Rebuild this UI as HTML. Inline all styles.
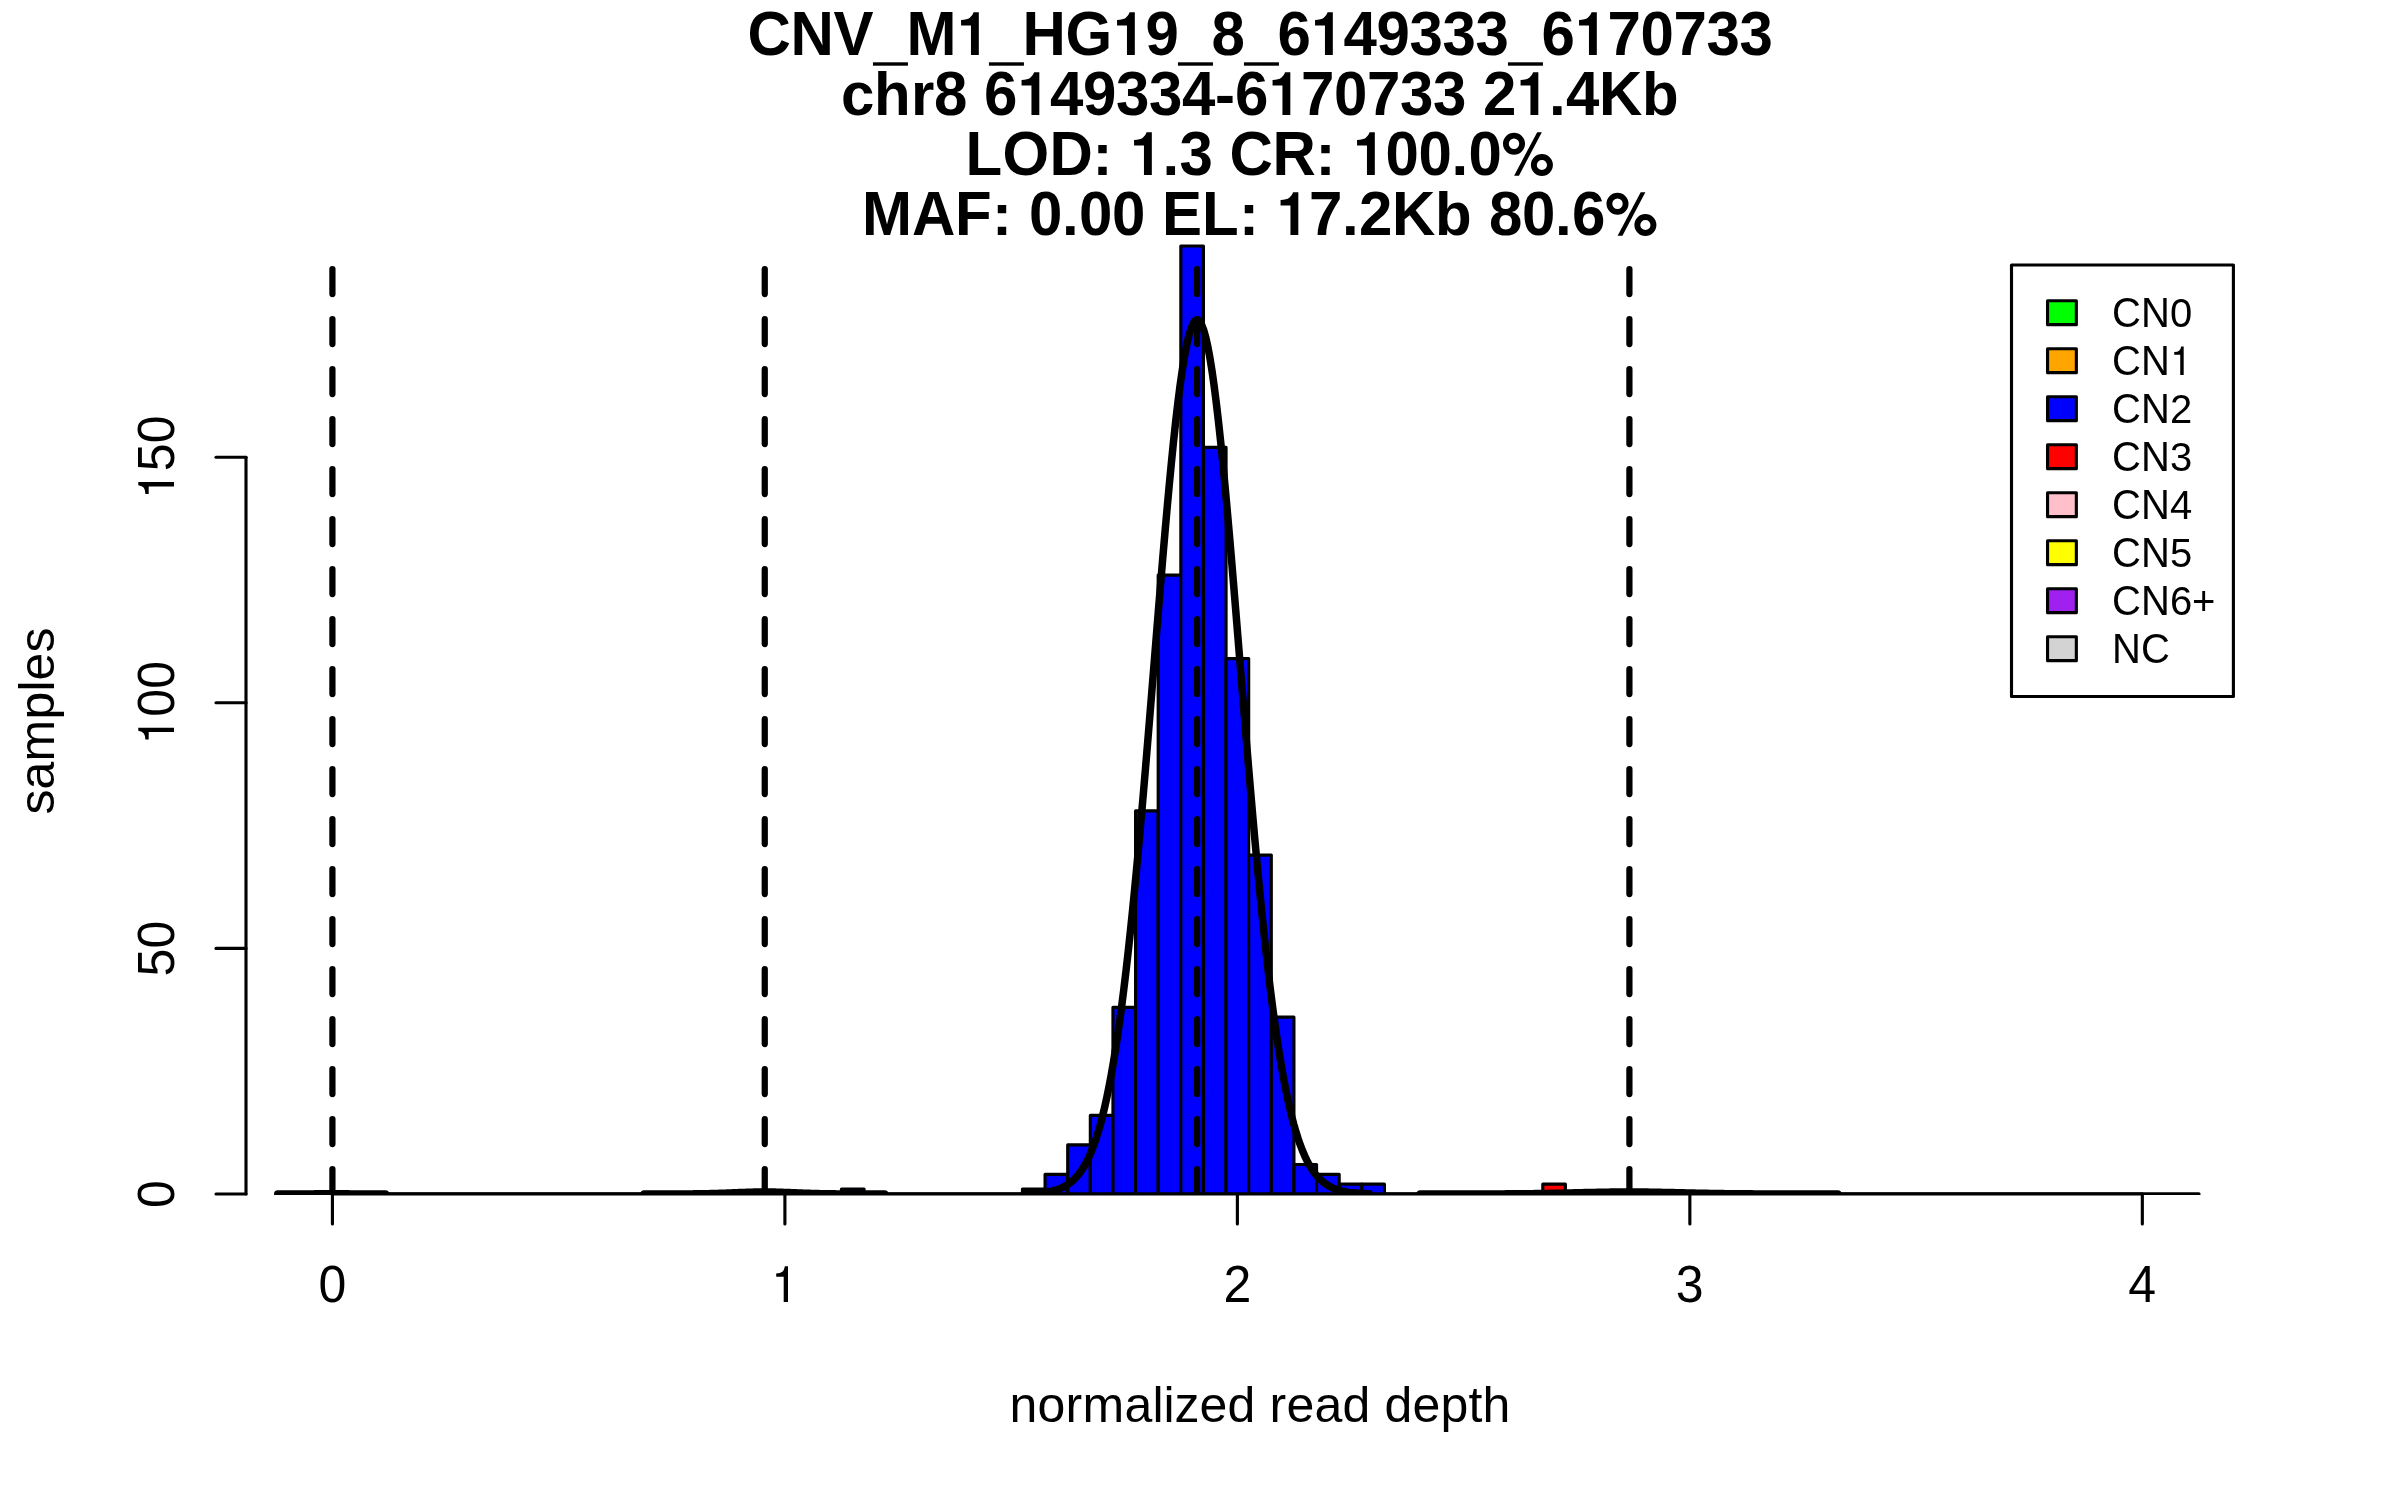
<!DOCTYPE html><html><head><meta charset="utf-8"><style>html,body{margin:0;padding:0;background:#fff;overflow:hidden}svg{display:block;will-change:transform}text{font-family:"Liberation Sans",sans-serif;font-kerning:none;fill:#000}</style></head><body>
<svg width="2400" height="1500" viewBox="0 0 2400 1500">
<defs><clipPath id="pc"><rect x="246" y="236" width="2029" height="959"/></clipPath></defs>
<rect width="2400" height="1500" fill="#fff"/>
<g transform="translate(1260.00,55.00)"><text transform="scale(1,1.06)" x="-512.50 -469.50 -426.50 -353.50 -237.50 -194.50" y="0" font-size="60" font-weight="bold">CNVMHG</text><text transform="scale(1,1.05)" x="-114.50 -48.50 17.50 83.50 116.50 149.50 182.50 215.50 281.50 347.50 380.50 413.50 446.50 479.50" y="0" font-size="60" font-weight="bold">98649333670733</text><path transform="translate(-303.50,0) scale(0.06,-0.06)" d="M372 0L241 0L241 492L76 492L76 583Q178 586 222 620Q266 654 286 712L372 712Z"/><path transform="translate(-147.50,0) scale(0.06,-0.06)" d="M372 0L241 0L241 492L76 492L76 583Q178 586 222 620Q266 654 286 712L372 712Z"/><path transform="translate(50.50,0) scale(0.06,-0.06)" d="M372 0L241 0L241 492L76 492L76 583Q178 586 222 620Q266 654 286 712L372 712Z"/><path transform="translate(314.50,0) scale(0.06,-0.06)" d="M372 0L241 0L241 492L76 492L76 583Q178 586 222 620Q266 654 286 712L372 712Z"/><rect x="-387.05" y="7.30" width="35.00" height="3.40"/><rect x="-271.05" y="7.30" width="35.00" height="3.40"/><rect x="-82.05" y="7.30" width="35.00" height="3.40"/><rect x="-16.05" y="7.30" width="35.00" height="3.40"/><rect x="247.95" y="7.30" width="35.00" height="3.40"/></g>
<g transform="translate(1260.00,115.00)"><text transform="scale(1,1.06)" x="339.00" y="0" font-size="60" font-weight="bold">K</text><text transform="scale(1,1.05)" x="-326.00 -276.00 -210.00 -177.00 -144.00 -111.00 -78.00 -25.00 41.00 74.00 107.00 140.00 173.00 223.00 306.00" y="0" font-size="60" font-weight="bold">864933467073324</text><text transform="scale(1,1.02)" x="-419.00 -386.00 -349.00 382.00" y="0" font-size="60" font-weight="bold">chrb</text><text x="-45.00 289.00" y="0" font-size="60" font-weight="bold">-.</text><path transform="translate(-243.00,0) scale(0.06,-0.06)" d="M372 0L241 0L241 492L76 492L76 583Q178 586 222 620Q266 654 286 712L372 712Z"/><path transform="translate(8.00,0) scale(0.06,-0.06)" d="M372 0L241 0L241 492L76 492L76 583Q178 586 222 620Q266 654 286 712L372 712Z"/><path transform="translate(256.00,0) scale(0.06,-0.06)" d="M372 0L241 0L241 492L76 492L76 583Q178 586 222 620Q266 654 286 712L372 712Z"/></g>
<g transform="translate(1260.00,175.00)"><text transform="scale(1,1.06)" x="-294.50 -257.50 -210.50 -30.50 12.50" y="0" font-size="60" font-weight="bold">LODCR</text><text transform="scale(1,1.05)" x="-80.50 125.50 158.50 208.50" y="0" font-size="60" font-weight="bold">3000</text><text x="-167.50 -97.50 55.50 191.50" y="0" font-size="60" font-weight="bold">:.:.</text><path transform="translate(-130.50,0) scale(0.06,-0.06)" d="M372 0L241 0L241 492L76 492L76 583Q178 586 222 620Q266 654 286 712L372 712Z"/><path transform="translate(92.50,0) scale(0.06,-0.06)" d="M372 0L241 0L241 492L76 492L76 583Q178 586 222 620Q266 654 286 712L372 712Z"/><path fill-rule="evenodd" transform="translate(241.50,0) scale(1)" d="M23.50 -31.20A11.00 11.00 0 1 0 1.50 -31.20A11.00 11.00 0 1 0 23.50 -31.20ZM17.70 -31.20A5.20 5.20 0 1 0 7.30 -31.20A5.20 5.20 0 1 0 17.70 -31.20ZM51.40 -10.00A11.00 11.00 0 1 0 29.40 -10.00A11.00 11.00 0 1 0 51.40 -10.00ZM45.50 -10.00A5.10 5.10 0 1 0 35.30 -10.00A5.10 5.10 0 1 0 45.50 -10.00ZM12.6 0.7L17.45 0.7L40.35 -42.8L35.7 -42.8Z"/></g>
<g transform="translate(1260.00,235.00)"><text transform="scale(1,1.06)" x="-398.00 -348.00 -305.00 -98.00 -58.00 132.00" y="0" font-size="60" font-weight="bold">MAFELK</text><text transform="scale(1,1.05)" x="-231.00 -181.00 -148.00 49.00 99.00 229.00 262.00 312.00" y="0" font-size="60" font-weight="bold">00072806</text><text transform="scale(1,1.02)" x="175.00" y="0" font-size="60" font-weight="bold">b</text><text x="-268.00 -198.00 -21.00 82.00 295.00" y="0" font-size="60" font-weight="bold">:.:..</text><path transform="translate(16.00,0) scale(0.06,-0.06)" d="M372 0L241 0L241 492L76 492L76 583Q178 586 222 620Q266 654 286 712L372 712Z"/><path fill-rule="evenodd" transform="translate(345.00,0) scale(1)" d="M23.50 -31.20A11.00 11.00 0 1 0 1.50 -31.20A11.00 11.00 0 1 0 23.50 -31.20ZM17.70 -31.20A5.20 5.20 0 1 0 7.30 -31.20A5.20 5.20 0 1 0 17.70 -31.20ZM51.40 -10.00A11.00 11.00 0 1 0 29.40 -10.00A11.00 11.00 0 1 0 51.40 -10.00ZM45.50 -10.00A5.10 5.10 0 1 0 35.30 -10.00A5.10 5.10 0 1 0 45.50 -10.00ZM12.6 0.7L17.45 0.7L40.35 -42.8L35.7 -42.8Z"/></g>
<g clip-path="url(#pc)">
<line x1="321.11" y1="1194.00" x2="2198.89" y2="1194.00" stroke="#000" stroke-width="3.4" stroke-linecap="round"/>
<g stroke="#000" stroke-width="3.125" stroke-linejoin="round" stroke-linecap="round">
<rect x="1022.45" y="1189.09" width="22.62" height="4.91" fill="#0000FF"/>
<rect x="1045.07" y="1174.35" width="22.62" height="19.65" fill="#0000FF"/>
<rect x="1067.70" y="1144.88" width="22.62" height="49.12" fill="#0000FF"/>
<rect x="1090.32" y="1115.41" width="22.62" height="78.59" fill="#0000FF"/>
<rect x="1112.95" y="1007.35" width="22.62" height="186.65" fill="#0000FF"/>
<rect x="1135.57" y="810.87" width="22.62" height="383.13" fill="#0000FF"/>
<rect x="1158.19" y="575.10" width="22.62" height="618.90" fill="#0000FF"/>
<rect x="1180.82" y="246.00" width="22.62" height="948.00" fill="#0000FF"/>
<rect x="1203.44" y="447.39" width="22.62" height="746.61" fill="#0000FF"/>
<rect x="1226.06" y="658.60" width="22.62" height="535.40" fill="#0000FF"/>
<rect x="1248.69" y="855.08" width="22.62" height="338.92" fill="#0000FF"/>
<rect x="1271.31" y="1017.17" width="22.62" height="176.83" fill="#0000FF"/>
<rect x="1293.94" y="1164.53" width="22.62" height="29.47" fill="#0000FF"/>
<rect x="1316.56" y="1174.35" width="22.62" height="19.65" fill="#0000FF"/>
<rect x="1339.18" y="1184.18" width="22.62" height="9.82" fill="#0000FF"/>
<rect x="1361.81" y="1184.18" width="22.62" height="9.82" fill="#0000FF"/>
<rect x="841.46" y="1189.09" width="22.62" height="4.91" fill="#0000FF"/>
<rect x="1542.80" y="1184.18" width="22.62" height="9.82" fill="#FF0000"/>
</g>
<g stroke="#000" stroke-width="7.5" stroke-linecap="round" stroke-linejoin="round" fill="none">
<polyline points="277.78,1194.00 278.46,1194.00 279.13,1194.00 279.80,1194.00 280.48,1194.00 281.15,1194.00 281.82,1194.00 282.49,1194.00 283.17,1194.00 283.84,1194.00 284.51,1194.00 285.19,1194.00 285.86,1194.00 286.53,1194.00 287.21,1194.00 287.88,1194.00 288.55,1194.00 289.22,1194.00 289.90,1194.00 290.57,1194.00 291.24,1194.00 291.92,1194.00 292.59,1194.00 293.26,1193.99 293.94,1193.99 294.61,1193.99 295.28,1193.99 295.95,1193.99 296.63,1193.99 297.30,1193.99 297.97,1193.99 298.65,1193.99 299.32,1193.98 299.99,1193.98 300.67,1193.98 301.34,1193.98 302.01,1193.97 302.68,1193.97 303.36,1193.97 304.03,1193.96 304.70,1193.96 305.38,1193.96 306.05,1193.95 306.72,1193.95 307.40,1193.94 308.07,1193.94 308.74,1193.93 309.41,1193.92 310.09,1193.92 310.76,1193.91 311.43,1193.90 312.11,1193.90 312.78,1193.89 313.45,1193.88 314.13,1193.87 314.80,1193.86 315.47,1193.85 316.14,1193.85 316.82,1193.84 317.49,1193.83 318.16,1193.82 318.84,1193.81 319.51,1193.80 320.18,1193.79 320.86,1193.78 321.53,1193.77 322.20,1193.77 322.87,1193.76 323.55,1193.75 324.22,1193.74 324.89,1193.74 325.57,1193.73 326.24,1193.72 326.91,1193.72 327.59,1193.71 328.26,1193.71 328.93,1193.71 329.60,1193.70 330.28,1193.70 330.95,1193.70 331.62,1193.70 332.30,1193.70 332.97,1193.70 333.64,1193.70 334.32,1193.71 334.99,1193.71 335.66,1193.71 336.33,1193.72 337.01,1193.72 337.68,1193.73 338.35,1193.74 339.03,1193.74 339.70,1193.75 340.37,1193.76 341.05,1193.77 341.72,1193.77 342.39,1193.78 343.06,1193.79 343.74,1193.80 344.41,1193.81 345.08,1193.82 345.76,1193.83 346.43,1193.84 347.10,1193.85 347.78,1193.85 348.45,1193.86 349.12,1193.87 349.79,1193.88 350.47,1193.89 351.14,1193.90 351.81,1193.90 352.49,1193.91 353.16,1193.92 353.83,1193.92 354.51,1193.93 355.18,1193.94 355.85,1193.94 356.52,1193.95 357.20,1193.95 357.87,1193.96 358.54,1193.96 359.22,1193.96 359.89,1193.97 360.56,1193.97 361.24,1193.97 361.91,1193.98 362.58,1193.98 363.25,1193.98 363.93,1193.98 364.60,1193.99 365.27,1193.99 365.95,1193.99 366.62,1193.99 367.29,1193.99 367.97,1193.99 368.64,1193.99 369.31,1193.99 369.98,1193.99 370.66,1194.00 371.33,1194.00 372.00,1194.00 372.68,1194.00 373.35,1194.00 374.02,1194.00 374.70,1194.00 375.37,1194.00 376.04,1194.00 376.71,1194.00 377.39,1194.00 378.06,1194.00 378.73,1194.00 379.41,1194.00 380.08,1194.00 380.75,1194.00 381.43,1194.00 382.10,1194.00 382.77,1194.00 383.44,1194.00 384.12,1194.00 384.79,1194.00 385.46,1194.00"/>
<polyline points="644.16,1194.00 645.67,1194.00 647.17,1194.00 648.67,1194.00 650.18,1194.00 651.68,1194.00 653.18,1194.00 654.68,1194.00 656.19,1194.00 657.69,1194.00 659.19,1194.00 660.70,1193.99 662.20,1193.99 663.70,1193.99 665.21,1193.99 666.71,1193.99 668.21,1193.99 669.71,1193.99 671.22,1193.98 672.72,1193.98 674.22,1193.98 675.73,1193.97 677.23,1193.97 678.73,1193.97 680.24,1193.96 681.74,1193.95 683.24,1193.95 684.74,1193.94 686.25,1193.93 687.75,1193.92 689.25,1193.91 690.76,1193.90 692.26,1193.89 693.76,1193.87 695.27,1193.86 696.77,1193.84 698.27,1193.82 699.77,1193.80 701.28,1193.78 702.78,1193.76 704.28,1193.73 705.79,1193.70 707.29,1193.67 708.79,1193.64 710.30,1193.60 711.80,1193.57 713.30,1193.53 714.80,1193.49 716.31,1193.44 717.81,1193.40 719.31,1193.35 720.82,1193.30 722.32,1193.25 723.82,1193.20 725.33,1193.14 726.83,1193.08 728.33,1193.03 729.83,1192.97 731.34,1192.91 732.84,1192.85 734.34,1192.79 735.85,1192.73 737.35,1192.67 738.85,1192.61 740.36,1192.55 741.86,1192.49 743.36,1192.43 744.86,1192.38 746.37,1192.33 747.87,1192.28 749.37,1192.24 750.88,1192.19 752.38,1192.15 753.88,1192.12 755.39,1192.09 756.89,1192.06 758.39,1192.04 759.89,1192.02 761.40,1192.01 762.90,1192.00 764.40,1192.00 765.91,1192.00 767.41,1192.01 768.91,1192.02 770.42,1192.04 771.92,1192.06 773.42,1192.09 774.92,1192.12 776.43,1192.15 777.93,1192.19 779.43,1192.24 780.94,1192.28 782.44,1192.33 783.94,1192.38 785.45,1192.43 786.95,1192.49 788.45,1192.55 789.95,1192.61 791.46,1192.67 792.96,1192.73 794.46,1192.79 795.97,1192.85 797.47,1192.91 798.97,1192.97 800.48,1193.03 801.98,1193.08 803.48,1193.14 804.98,1193.20 806.49,1193.25 807.99,1193.30 809.49,1193.35 811.00,1193.40 812.50,1193.44 814.00,1193.49 815.51,1193.53 817.01,1193.57 818.51,1193.60 820.01,1193.64 821.52,1193.67 823.02,1193.70 824.52,1193.73 826.03,1193.76 827.53,1193.78 829.03,1193.80 830.54,1193.82 832.04,1193.84 833.54,1193.86 835.04,1193.87 836.55,1193.89 838.05,1193.90 839.55,1193.91 841.06,1193.92 842.56,1193.93 844.06,1193.94 845.57,1193.95 847.07,1193.95 848.57,1193.96 850.07,1193.97 851.58,1193.97 853.08,1193.97 854.58,1193.98 856.09,1193.98 857.59,1193.98 859.09,1193.99 860.60,1193.99 862.10,1193.99 863.60,1193.99 865.10,1193.99 866.61,1193.99 868.11,1193.99 869.61,1194.00 871.12,1194.00 872.62,1194.00 874.12,1194.00 875.63,1194.00 877.13,1194.00 878.63,1194.00 880.13,1194.00 881.64,1194.00 883.14,1194.00 884.64,1194.00"/>
<polyline points="1025.08,1193.71 1027.23,1193.64 1029.38,1193.56 1031.53,1193.47 1033.68,1193.36 1035.83,1193.23 1037.98,1193.07 1040.13,1192.88 1042.28,1192.66 1044.43,1192.40 1046.58,1192.09 1048.73,1191.72 1050.88,1191.30 1053.03,1190.80 1055.18,1190.23 1057.33,1189.55 1059.48,1188.78 1061.63,1187.88 1063.78,1186.84 1065.93,1185.65 1068.08,1184.29 1070.23,1182.73 1072.38,1180.96 1074.53,1178.94 1076.68,1176.65 1078.83,1174.07 1080.98,1171.16 1083.13,1167.90 1085.28,1164.23 1087.43,1160.14 1089.58,1155.59 1091.73,1150.53 1093.88,1144.92 1096.03,1138.74 1098.18,1131.92 1100.33,1124.45 1102.48,1116.26 1104.63,1107.33 1106.78,1097.61 1108.93,1087.08 1111.08,1075.68 1113.23,1063.40 1115.38,1050.21 1117.53,1036.08 1119.68,1020.99 1121.83,1004.93 1123.98,987.90 1126.13,969.89 1128.28,950.93 1130.43,931.01 1132.58,910.17 1134.73,888.45 1136.88,865.88 1139.03,842.53 1141.18,818.46 1143.33,793.74 1145.48,768.46 1147.63,742.71 1149.78,716.59 1151.93,690.23 1154.08,663.74 1156.23,637.25 1158.38,610.90 1160.53,584.82 1162.68,559.16 1164.83,534.08 1166.98,509.72 1169.13,486.23 1171.28,463.77 1173.43,442.47 1175.58,422.48 1177.73,403.93 1179.88,386.97 1182.03,371.69 1184.18,358.22 1186.33,346.65 1188.48,337.06 1190.63,329.53 1192.78,324.11 1194.93,320.84 1197.08,319.75 1199.23,320.84 1201.38,324.11 1203.53,329.53 1205.68,337.06 1207.83,346.65 1209.98,358.22 1212.13,371.69 1214.28,386.97 1216.43,403.93 1218.58,422.48 1220.73,442.47 1222.88,463.77 1225.03,486.23 1227.18,509.72 1229.33,534.08 1231.48,559.16 1233.63,584.82 1235.78,610.90 1237.93,637.25 1240.08,663.74 1242.23,690.23 1244.38,716.59 1246.53,742.71 1248.68,768.46 1250.83,793.74 1252.98,818.46 1255.13,842.53 1257.28,865.88 1259.43,888.45 1261.58,910.17 1263.73,931.01 1265.88,950.93 1268.03,969.89 1270.18,987.90 1272.33,1004.93 1274.48,1020.99 1276.63,1036.08 1278.78,1050.21 1280.93,1063.40 1283.08,1075.68 1285.23,1087.08 1287.38,1097.61 1289.53,1107.33 1291.68,1116.26 1293.83,1124.45 1295.98,1131.92 1298.13,1138.74 1300.28,1144.92 1302.43,1150.53 1304.58,1155.59 1306.73,1160.14 1308.88,1164.23 1311.03,1167.90 1313.18,1171.16 1315.33,1174.07 1317.48,1176.65 1319.63,1178.94 1321.78,1180.96 1323.93,1182.73 1326.08,1184.29 1328.23,1185.65 1330.38,1186.84 1332.53,1187.88 1334.68,1188.78 1336.83,1189.55 1338.98,1190.23 1341.13,1190.80 1343.28,1191.30 1345.43,1191.72 1347.58,1192.09 1349.73,1192.40 1351.88,1192.66 1354.03,1192.88 1356.18,1193.07 1358.33,1193.23 1360.48,1193.36 1362.63,1193.47 1364.78,1193.56 1366.93,1193.64 1369.08,1193.71"/>
<polyline points="1420.21,1194.00 1422.82,1194.00 1425.43,1194.00 1428.04,1194.00 1430.65,1194.00 1433.26,1194.00 1435.87,1194.00 1438.48,1194.00 1441.09,1194.00 1443.70,1194.00 1446.31,1194.00 1448.92,1193.99 1451.53,1193.99 1454.14,1193.99 1456.75,1193.99 1459.36,1193.99 1461.97,1193.99 1464.58,1193.99 1467.19,1193.98 1469.80,1193.98 1472.41,1193.98 1475.02,1193.97 1477.63,1193.97 1480.24,1193.97 1482.85,1193.96 1485.46,1193.95 1488.07,1193.95 1490.68,1193.94 1493.29,1193.93 1495.90,1193.92 1498.51,1193.91 1501.12,1193.90 1503.73,1193.89 1506.34,1193.87 1508.95,1193.86 1511.56,1193.84 1514.17,1193.82 1516.78,1193.80 1519.39,1193.78 1522.00,1193.76 1524.61,1193.73 1527.22,1193.70 1529.83,1193.67 1532.44,1193.64 1535.05,1193.60 1537.66,1193.57 1540.27,1193.53 1542.88,1193.49 1545.49,1193.44 1548.10,1193.40 1550.71,1193.35 1553.32,1193.30 1555.93,1193.25 1558.54,1193.20 1561.15,1193.14 1563.76,1193.08 1566.37,1193.03 1568.98,1192.97 1571.59,1192.91 1574.20,1192.85 1576.81,1192.79 1579.42,1192.73 1582.03,1192.67 1584.64,1192.61 1587.25,1192.55 1589.86,1192.49 1592.47,1192.43 1595.08,1192.38 1597.69,1192.33 1600.30,1192.28 1602.91,1192.24 1605.52,1192.19 1608.13,1192.15 1610.74,1192.12 1613.35,1192.09 1615.96,1192.06 1618.57,1192.04 1621.18,1192.02 1623.79,1192.01 1626.40,1192.00 1629.01,1192.00 1631.62,1192.00 1634.23,1192.01 1636.84,1192.02 1639.45,1192.04 1642.06,1192.06 1644.67,1192.09 1647.28,1192.12 1649.89,1192.15 1652.50,1192.19 1655.11,1192.24 1657.72,1192.28 1660.33,1192.33 1662.94,1192.38 1665.55,1192.43 1668.16,1192.49 1670.77,1192.55 1673.38,1192.61 1675.99,1192.67 1678.60,1192.73 1681.21,1192.79 1683.82,1192.85 1686.43,1192.91 1689.04,1192.97 1691.65,1193.03 1694.26,1193.08 1696.87,1193.14 1699.48,1193.20 1702.09,1193.25 1704.70,1193.30 1707.31,1193.35 1709.92,1193.40 1712.53,1193.44 1715.14,1193.49 1717.75,1193.53 1720.36,1193.57 1722.97,1193.60 1725.58,1193.64 1728.19,1193.67 1730.80,1193.70 1733.41,1193.73 1736.02,1193.76 1738.63,1193.78 1741.24,1193.80 1743.85,1193.82 1746.46,1193.84 1749.07,1193.86 1751.68,1193.87 1754.29,1193.89 1756.90,1193.90 1759.51,1193.91 1762.12,1193.92 1764.73,1193.93 1767.34,1193.94 1769.95,1193.95 1772.56,1193.95 1775.17,1193.96 1777.78,1193.97 1780.39,1193.97 1783.00,1193.97 1785.61,1193.98 1788.22,1193.98 1790.83,1193.98 1793.44,1193.99 1796.05,1193.99 1798.66,1193.99 1801.27,1193.99 1803.88,1193.99 1806.49,1193.99 1809.10,1193.99 1811.71,1194.00 1814.32,1194.00 1816.93,1194.00 1819.54,1194.00 1822.15,1194.00 1824.76,1194.00 1827.37,1194.00 1829.98,1194.00 1832.59,1194.00 1835.20,1194.00 1837.81,1194.00"/>
</g>
<g stroke="#000" stroke-width="6.25" stroke-linecap="round" stroke-dasharray="25 25">
<line x1="332.42" y1="1194.00" x2="332.42" y2="246.00"/>
<line x1="764.75" y1="1194.00" x2="764.75" y2="246.00"/>
<line x1="1197.08" y1="1194.00" x2="1197.08" y2="246.00"/>
<line x1="1629.41" y1="1194.00" x2="1629.41" y2="246.00"/>
</g>
</g>
<g stroke="#000" stroke-width="3.125" stroke-linecap="round" fill="none">
<line x1="332.42" y1="1194.00" x2="2142.33" y2="1194.00"/>
<line x1="332.42" y1="1194.00" x2="332.42" y2="1224.00"/>
<line x1="784.90" y1="1194.00" x2="784.90" y2="1224.00"/>
<line x1="1237.38" y1="1194.00" x2="1237.38" y2="1224.00"/>
<line x1="1689.85" y1="1194.00" x2="1689.85" y2="1224.00"/>
<line x1="2142.33" y1="1194.00" x2="2142.33" y2="1224.00"/>
<line x1="246.00" y1="457.21" x2="246.00" y2="1194.00"/>
<line x1="246.00" y1="1194.00" x2="216.00" y2="1194.00"/>
<line x1="246.00" y1="948.40" x2="216.00" y2="948.40"/>
<line x1="246.00" y1="702.81" x2="216.00" y2="702.81"/>
<line x1="246.00" y1="457.21" x2="216.00" y2="457.21"/>
</g>
<g transform="translate(332.42,1302.00)"><text transform="scale(1,1.03)" x="-14.00" y="0" font-size="50">0</text></g>
<g transform="translate(784.90,1302.00)"><path transform="translate(-14.00,0) scale(0.05,-0.05)" d="M342 0L256 0L256 506L106 506L106 572Q190 574 228 604Q266 634 280 714L342 714Z"/></g>
<g transform="translate(1237.38,1302.00)"><text transform="scale(1,1.03)" x="-14.00" y="0" font-size="50">2</text></g>
<g transform="translate(1689.85,1302.00)"><text transform="scale(1,1.03)" x="-14.00" y="0" font-size="50">3</text></g>
<g transform="translate(2142.33,1302.00)"><text transform="scale(1,1.03)" x="-14.00" y="0" font-size="50">4</text></g>
<g transform="translate(174.00,1194.00) rotate(-90)"><text transform="scale(1,1.03)" x="-14.00" y="0" font-size="50">0</text></g>
<g transform="translate(174.00,948.40) rotate(-90)"><text transform="scale(1,1.03)" x="-28.00 0.00" y="0" font-size="50">50</text></g>
<g transform="translate(174.00,702.81) rotate(-90)"><text transform="scale(1,1.03)" x="-14.00 14.00" y="0" font-size="50">00</text><path transform="translate(-42.00,0) scale(0.05,-0.05)" d="M342 0L256 0L256 506L106 506L106 572Q190 574 228 604Q266 634 280 714L342 714Z"/></g>
<g transform="translate(174.00,457.21) rotate(-90)"><text transform="scale(1,1.03)" x="-14.00 14.00" y="0" font-size="50">50</text><path transform="translate(-42.00,0) scale(0.05,-0.05)" d="M342 0L256 0L256 506L106 506L106 572Q190 574 228 604Q266 634 280 714L342 714Z"/></g>
<g transform="translate(1260.00,1422.00)"><text x="-250.50 -222.50 -194.50 -177.50 -135.50 -107.50 -96.50 -85.50 -60.50 -32.50 9.50 26.50 54.50 82.50 124.50 152.50 180.50 208.50 222.50" y="0" font-size="50">normalizedreaddepth</text></g>
<g transform="translate(54.00,721.00) rotate(-90)"><text x="-93.50 -68.50 -40.50 1.50 29.50 40.50 68.50" y="0" font-size="50">samples</text></g>
<rect x="2011.5" y="265" width="221.9" height="431.5" fill="#fff" stroke="#000" stroke-width="3.125" stroke-linejoin="round"/>
<rect x="2047.55" y="300.72" width="28.8" height="23.95" fill="#00FF00" stroke="#000" stroke-width="3.125" stroke-linejoin="round"/>
<g transform="translate(2112.00,327.00)"><text transform="scale(1,1.055)" x="0.00 29.00" y="0" font-size="40">CN</text><text transform="scale(1,1.03)" x="58.00" y="0" font-size="40">0</text></g>
<rect x="2047.55" y="348.72" width="28.8" height="23.95" fill="#FFA500" stroke="#000" stroke-width="3.125" stroke-linejoin="round"/>
<g transform="translate(2112.00,375.00)"><text transform="scale(1,1.055)" x="0.00 29.00" y="0" font-size="40">CN</text><path transform="translate(58.00,0) scale(0.04,-0.04)" d="M342 0L256 0L256 506L106 506L106 572Q190 574 228 604Q266 634 280 714L342 714Z"/></g>
<rect x="2047.55" y="396.72" width="28.8" height="23.95" fill="#0000FF" stroke="#000" stroke-width="3.125" stroke-linejoin="round"/>
<g transform="translate(2112.00,423.00)"><text transform="scale(1,1.055)" x="0.00 29.00" y="0" font-size="40">CN</text><text transform="scale(1,1.03)" x="58.00" y="0" font-size="40">2</text></g>
<rect x="2047.55" y="444.72" width="28.8" height="23.95" fill="#FF0000" stroke="#000" stroke-width="3.125" stroke-linejoin="round"/>
<g transform="translate(2112.00,471.00)"><text transform="scale(1,1.055)" x="0.00 29.00" y="0" font-size="40">CN</text><text transform="scale(1,1.03)" x="58.00" y="0" font-size="40">3</text></g>
<rect x="2047.55" y="492.72" width="28.8" height="23.95" fill="#FFC0CB" stroke="#000" stroke-width="3.125" stroke-linejoin="round"/>
<g transform="translate(2112.00,519.00)"><text transform="scale(1,1.055)" x="0.00 29.00" y="0" font-size="40">CN</text><text transform="scale(1,1.03)" x="58.00" y="0" font-size="40">4</text></g>
<rect x="2047.55" y="540.73" width="28.8" height="23.95" fill="#FFFF00" stroke="#000" stroke-width="3.125" stroke-linejoin="round"/>
<g transform="translate(2112.00,567.00)"><text transform="scale(1,1.055)" x="0.00 29.00" y="0" font-size="40">CN</text><text transform="scale(1,1.03)" x="58.00" y="0" font-size="40">5</text></g>
<rect x="2047.55" y="588.73" width="28.8" height="23.95" fill="#A020F0" stroke="#000" stroke-width="3.125" stroke-linejoin="round"/>
<g transform="translate(2112.00,615.00)"><text transform="scale(1,1.055)" x="0.00 29.00" y="0" font-size="40">CN</text><text transform="scale(1,1.03)" x="58.00" y="0" font-size="40">6</text><text x="80.00" y="0" font-size="40">+</text></g>
<rect x="2047.55" y="636.73" width="28.8" height="23.95" fill="#D3D3D3" stroke="#000" stroke-width="3.125" stroke-linejoin="round"/>
<g transform="translate(2112.00,663.00)"><text transform="scale(1,1.055)" x="0.00 29.00" y="0" font-size="40">NC</text></g>
</svg></body></html>
